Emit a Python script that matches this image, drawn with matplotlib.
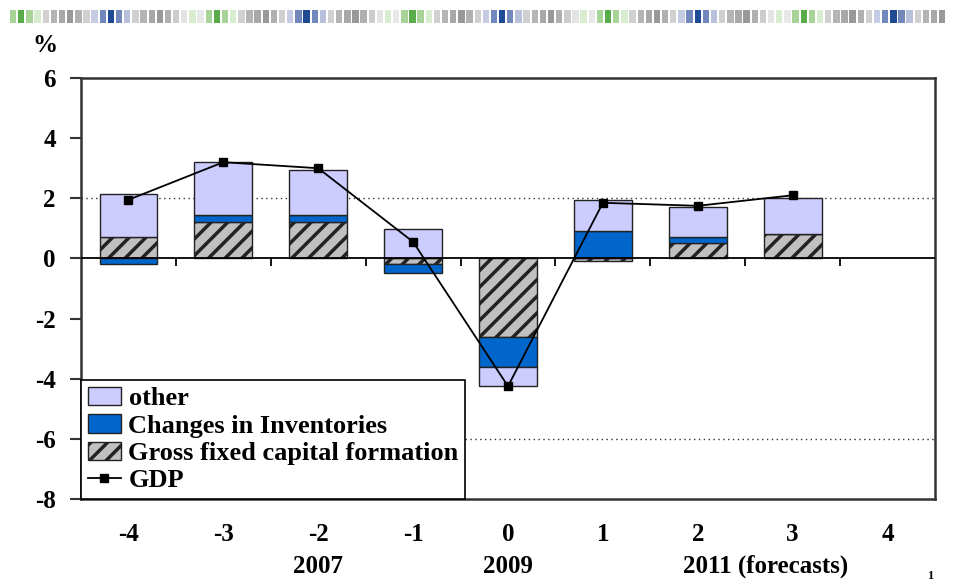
import numpy as np
import matplotlib
matplotlib.use("Agg")
import matplotlib.pyplot as plt
from matplotlib.patches import Rectangle

# values (% contributions)
categories = [-4, -3, -2, -1, 0, 1, 2, 3, 4]
gfcf = [0.7, 1.2, 1.2, -0.17, -2.6, -0.1, 0.5, 0.8, np.nan]
inventories = [-0.17, 0.25, 0.25, -0.3, -1.0, 0.9, 0.2, 0.0, np.nan]
other = [1.45, 1.75, 1.5, 0.98, -0.65, 1.05, 1.0, 1.22, np.nan]
gdp = [1.95, 3.2, 3.0, 0.55, -4.25, 1.85, 1.75, 2.1, np.nan]
# year captions under the category labels (category value where they sit)
year_labels = [("2007", -2), ("2009", 0), ("2011 (forecasts)", 2.72)]
y_ticks = [-8, -6, -4, -2, 0, 2, 4, 6]
ref_lines = [2, -6]

# decorative strip at the top
strip_colors = ["#a8d49a", "#5aab4a", "#a8d49a", "#d8ecd0", "#d0d0d0", "#b4b4b4",
                "#a8a8a8", "#999999", "#b0b0b0", "#d0d0d0", "#c4cbe2", "#7088bb",
                "#1f4a94", "#7088bb", "#b8c0dc", "#d0d0d0", "#b4b4b4", "#a8a8a8",
                "#999999", "#b0b0b0", "#cccccc", "#e4e4e4", "#d8ecd0", "#e8e8e8"]

plt.rcParams["font.family"] = ["Liberation Serif", "DejaVu Serif"]
plt.rcParams["font.weight"] = "bold"
plt.rcParams["hatch.linewidth"] = 2.5

fig = plt.figure(figsize=(9.54, 5.88), dpi=100)
ax = fig.add_axes([81 / 954, 89 / 588, 854 / 954, 421 / 588])

x = np.arange(len(categories))
width = 0.61
edge = "#222222"

pos = np.zeros(len(x))
neg = np.zeros(len(x))
series = [
    (gfcf, "#c0c0c0", "//", "Gross fixed capital formation"),
    (inventories, "#0066cc", None, "Changes in Inventories"),
    (other, "#ccccff", None, "other"),
]
handles = {}
for values, color, hatch, label in series:
    raw = np.array(values, dtype=float)
    keep = ~np.isnan(raw)
    vals = np.nan_to_num(raw)
    bottom = np.where(vals >= 0, pos, neg)
    bars = ax.bar(x[keep], vals[keep], width, bottom=bottom[keep], color=color,
                  edgecolor=edge, linewidth=1.0, hatch=hatch, zorder=3, label=label)
    handles[label] = bars
    pos = pos + np.where(vals >= 0, vals, 0)
    neg = neg + np.where(vals < 0, vals, 0)

gdp_line, = ax.plot(x, gdp, color="black", linewidth=1.3, marker="s",
                    markersize=6, zorder=5, label="GDP")

for yv in ref_lines:
    ax.axhline(yv, color="#333333", linestyle=(0, (1, 2.5)), linewidth=1.0, zorder=1)
ax.axhline(0, color="black", linewidth=1.3, zorder=4)
ax.vlines(x[:-1] + 0.5, -0.25, 0, color="black", linewidth=1.3, zorder=4)

ax.set_xlim(-0.5, len(x) - 0.5)
ax.set_ylim(-8, 6)
ax.set_yticks(y_ticks)
ax.set_yticklabels([str(t) for t in y_ticks])
ax.set_xticks(x)
ax.set_xticklabels([str(c) for c in categories])
ax.tick_params(axis="x", length=0, pad=17, labelsize=18)
ax.tick_params(axis="y", direction="out", length=8, width=1.5, pad=10,
               labelsize=18, color="#333333")
for spine in ax.spines.values():
    spine.set_color("#333333")
    spine.set_linewidth(1.8)

trans = ax.get_xaxis_transform()
for text, cat in year_labels:
    ax.text(cat - categories[0], -0.16, text, transform=trans, ha="center",
            va="center", fontsize=18, fontweight="bold")

fig.text(45 / 954, 1 - 45 / 588, "%", ha="center", va="center", fontsize=18,
         fontweight="bold")
fig.text(930 / 954, 1 - 576 / 588, "1", ha="center", va="center", fontsize=9)

leg = ax.legend(
    [handles["other"], handles["Changes in Inventories"],
     handles["Gross fixed capital formation"], gdp_line],
    ["other", "Changes in Inventories", "Gross fixed capital formation", "GDP"],
    loc="lower left", borderaxespad=0, fancybox=False, framealpha=1,
    edgecolor="black", handlelength=1.25, handleheight=0.7,
    handletextpad=0.3, labelspacing=0.15, borderpad=0.25,
    prop={"family": ["Liberation Serif"], "weight": "bold", "size": 19})
leg.get_frame().set_linewidth(1.2)
leg.set_zorder(10)

# top strip
strip = fig.add_axes([0, 1 - 23 / 588, 1, 13 / 588])
strip.set_xlim(0, 954)
strip.set_ylim(0, 1)
strip.axis("off")
cell = 8.15
n_cells = int((954 - 10) / cell)
for i in range(n_cells):
    strip.add_patch(Rectangle((10 + i * cell, 0), cell - 1.8, 1,
                              color=strip_colors[i % len(strip_colors)], lw=0))

fig.savefig("out.png", dpi=100)
